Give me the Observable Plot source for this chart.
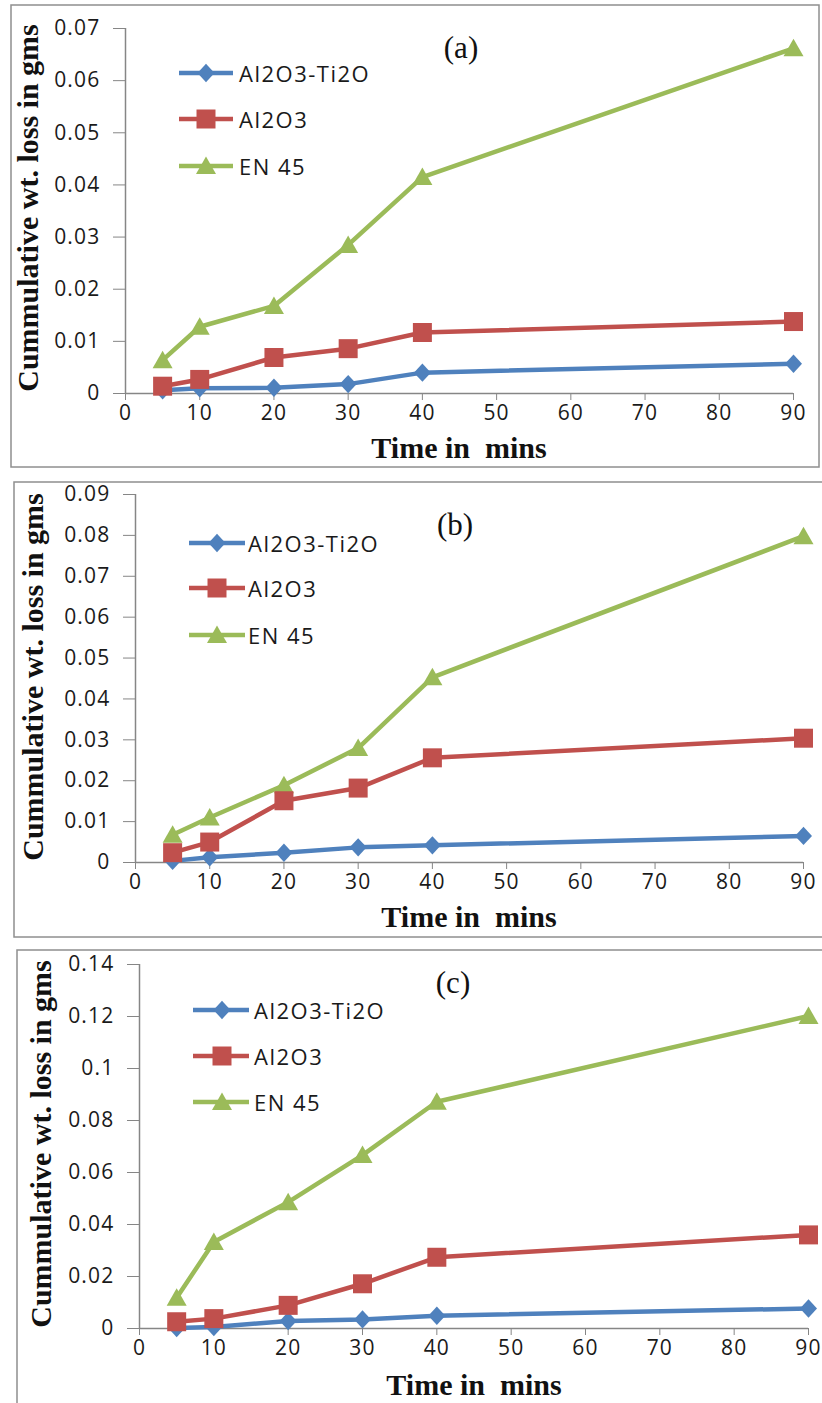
<!DOCTYPE html>
<html><head><meta charset="utf-8">
<script src="https://cdn.jsdelivr.net/npm/d3@7"></script>
<script src="https://cdn.jsdelivr.net/npm/@observablehq/plot@0.6"></script>
<style>
html,body{margin:0;padding:0;background:#fff;}
#root{position:relative;width:822px;height:1403px;overflow:hidden;background:#fff;}
.panel{position:absolute;left:0;}
.panel svg{overflow:visible;background:transparent !important;}
.panel svg text{fill:#1a1a1a;}
#overlay{position:absolute;left:0;top:0;}
</style></head><body><div id="root"></div>
<script>
// ---- data ----
const times = [5, 10, 20, 30, 40, 90];
const seriesNames = ["Al2O3-Ti2O", "Al2O3", "EN 45"];
const colors = ["#4F81BD", "#C0504D", "#9BBB59"];
const panelLabels = ["(a)", "(b)", "(c)"];
const xLabel = "Time in  mins";
const yLabel = "Cummulative wt. loss in gms";

const a_AlTi = [0.0006, 0.0010, 0.0011, 0.0018, 0.0040, 0.0057];
const a_Al   = [0.0014, 0.0027, 0.0069, 0.0086, 0.0117, 0.0138];
const a_EN   = [0.0064, 0.0128, 0.0168, 0.0285, 0.0415, 0.0662];

const b_AlTi = [0.0004, 0.0013, 0.0024, 0.0037, 0.0042, 0.0065];
const b_Al   = [0.0024, 0.0050, 0.0151, 0.0182, 0.0256, 0.0304];
const b_EN   = [0.0068, 0.0110, 0.0189, 0.0280, 0.0453, 0.0798];

const c_AlTi = [0.0002, 0.0006, 0.0029, 0.0035, 0.0049, 0.0077];
const c_Al   = [0.0026, 0.0038, 0.0089, 0.0172, 0.0274, 0.0360];
const c_EN   = [0.0118, 0.0333, 0.0486, 0.0667, 0.0872, 0.1202];

const xTicks  = [0, 10, 20, 30, 40, 50, 60, 70, 80, 90];
const yTicksA = [0, 0.01, 0.02, 0.03, 0.04, 0.05, 0.06, 0.07];
const yTicksB = [0, 0.01, 0.02, 0.03, 0.04, 0.05, 0.06, 0.07, 0.08, 0.09];
const yTicksC = [0, 0.02, 0.04, 0.06, 0.08, 0.10, 0.12, 0.14];

// ---- symbols (Excel-like markers) ----
const rOf = size => Math.sqrt(size / Math.PI);
const diamondSym = {draw(ctx, size){const r=rOf(size), w=0.85*r, h=0.92*r; ctx.moveTo(0,-h); ctx.lineTo(w,0); ctx.lineTo(0,h); ctx.lineTo(-w,0); ctx.closePath();}};
const squareSym  = {draw(ctx, size){const r=rOf(size), s=0.95*r; ctx.moveTo(-s,-s); ctx.lineTo(s,-s); ctx.lineTo(s,s); ctx.lineTo(-s,s); ctx.closePath();}};
const triSym     = {draw(ctx, size){const r=rOf(size); ctx.moveTo(0,-0.95*r); ctx.lineTo(1.0*r,0.8*r); ctx.lineTo(-1.0*r,0.8*r); ctx.closePath();}};
const syms = [diamondSym, squareSym, triSym];
const markR = 10;

// ---- layout ----
const panels = [
  {series:[a_AlTi,a_Al,a_EN], yTicks:yTicksA, top:0,   height:430, mt:28, mb:37, ml:125, mr:29,
   frame:[11,5,808,462], tag:[461,47], xt:[459,458], yt:[38,208],
   leg:{rows:[73,119,166], x1:179, x2:233, mx:206, tx:239}},
  {series:[b_AlTi,b_Al,b_EN], yTicks:yTicksB, top:470, height:430, mt:24, mb:38, ml:135, mr:19,
   frame:[14,482,830,455], tag:[455,524], xt:[469,927], yt:[43,677],
   leg:{rows:[543,588,635], x1:189, x2:245, mx:217, tx:248}},
  {series:[c_AlTi,c_Al,c_EN], yTicks:yTicksC, top:940, height:430, mt:24, mb:42, ml:139, mr:14,
   frame:[17,950,830,480], tag:[453,982], xt:[474,1395], yt:[51,1144],
   leg:{rows:[1010,1056,1102], x1:193, x2:249, mx:222, tx:254}}
];

const root = document.getElementById("root");
const fmt = d => String(+d.toFixed(3));

// overlay (frames) drawn first, behind plots
const ov = d3.select(root).append("svg").attr("id","overlay").attr("width",822).attr("height",1403);

panels.forEach(p => {
  const [fx,fy,fw,fh] = p.frame;
  ov.append("rect").attr("x",fx).attr("y",fy).attr("width",fw).attr("height",fh)
    .attr("fill","none").attr("stroke","#8f8f8f").attr("stroke-width",1.5);
});

const drawOrder = [0, 2, 1];
panels.forEach((p, pi) => {
  const rows = [];
  drawOrder.forEach(si => p.series[si].forEach((v, i) => rows.push({t: times[i], v, s: si})));
  const marks = [
    Plot.ruleY([0], {stroke:"#868686", strokeWidth:1.5}),
    Plot.ruleX([0], {stroke:"#868686", strokeWidth:1.5})
  ];
  drawOrder.forEach(si => {
    const d = rows.filter(r => r.s === si);
    marks.push(Plot.line(d, {x:"t", y:"v", stroke:colors[si], strokeWidth:4.5, strokeLinejoin:"round", strokeLinecap:"round"}));
    marks.push(Plot.dot(d, {x:"t", y:"v", symbol:syms[si], r:markR, fill:colors[si], stroke:"none"}));
  });
  const chart = Plot.plot({
    width: 822, height: p.height,
    marginTop: p.mt, marginBottom: p.mb, marginLeft: p.ml, marginRight: p.mr,
    style: {background:"transparent", fontFamily:"'Open Sans', sans-serif", fontSize:"21px", color:"#868686", overflow:"visible", letterSpacing:"1.2px"},
    x: {domain:[0,90], ticks:xTicks, tickSize:7, tickPadding:5, label:null, tickFormat:d => String(d)},
    y: {domain:[0, p.yTicks[p.yTicks.length-1]], ticks:p.yTicks, tickSize:12, tickPadding:13, label:null, tickFormat:fmt},
    marks
  });
  const wrap = document.createElement("div");
  wrap.className = "panel";
  wrap.style.top = p.top + "px";
  wrap.appendChild(chart);
  root.appendChild(wrap);
});

// foreground overlay for text and legends
const fg = d3.select(root).append("svg").attr("width",822).attr("height",1403)
  .style("position","absolute").style("left","0").style("top","0").style("pointer-events","none");

panels.forEach((p, pi) => {
  fg.append("text").attr("x",p.tag[0]).attr("y",p.tag[1]).attr("text-anchor","middle")
    .attr("dominant-baseline","central").attr("font-family","'Liberation Serif', serif")
    .attr("font-size",31).attr("fill","#111").text(panelLabels[pi]);
  fg.append("text").attr("x",p.xt[0]).attr("y",p.xt[1]).attr("text-anchor","middle")
    .attr("font-family","'Liberation Serif', serif").attr("font-weight","bold")
    .attr("font-size",30).attr("fill","#111").style("white-space","pre").text(xLabel);
  fg.append("text").attr("transform",`translate(${p.yt[0]},${p.yt[1]}) rotate(-90)`).attr("text-anchor","middle")
    .attr("font-family","'Liberation Serif', serif").attr("font-weight","bold")
    .attr("font-size",30).attr("fill","#111").text(yLabel);
  const L = p.leg;
  seriesNames.forEach((name, si) => {
    const y = L.rows[si];
    fg.append("line").attr("x1",L.x1).attr("x2",L.x2).attr("y1",y).attr("y2",y)
      .attr("stroke",colors[si]).attr("stroke-width",4.5);
    fg.append("path").attr("transform",`translate(${L.mx},${y})`)
      .attr("d", d3.symbol().type(syms[si]).size(Math.PI*markR*markR)()).attr("fill",colors[si]);
    fg.append("text").attr("x",L.tx).attr("y",y).attr("dominant-baseline","central")
      .attr("font-family","'Open Sans', sans-serif").attr("font-size",22).attr("letter-spacing","1.5px")
      .attr("fill","#1a1a1a").text(name);
  });
});
</script>
</body></html>
